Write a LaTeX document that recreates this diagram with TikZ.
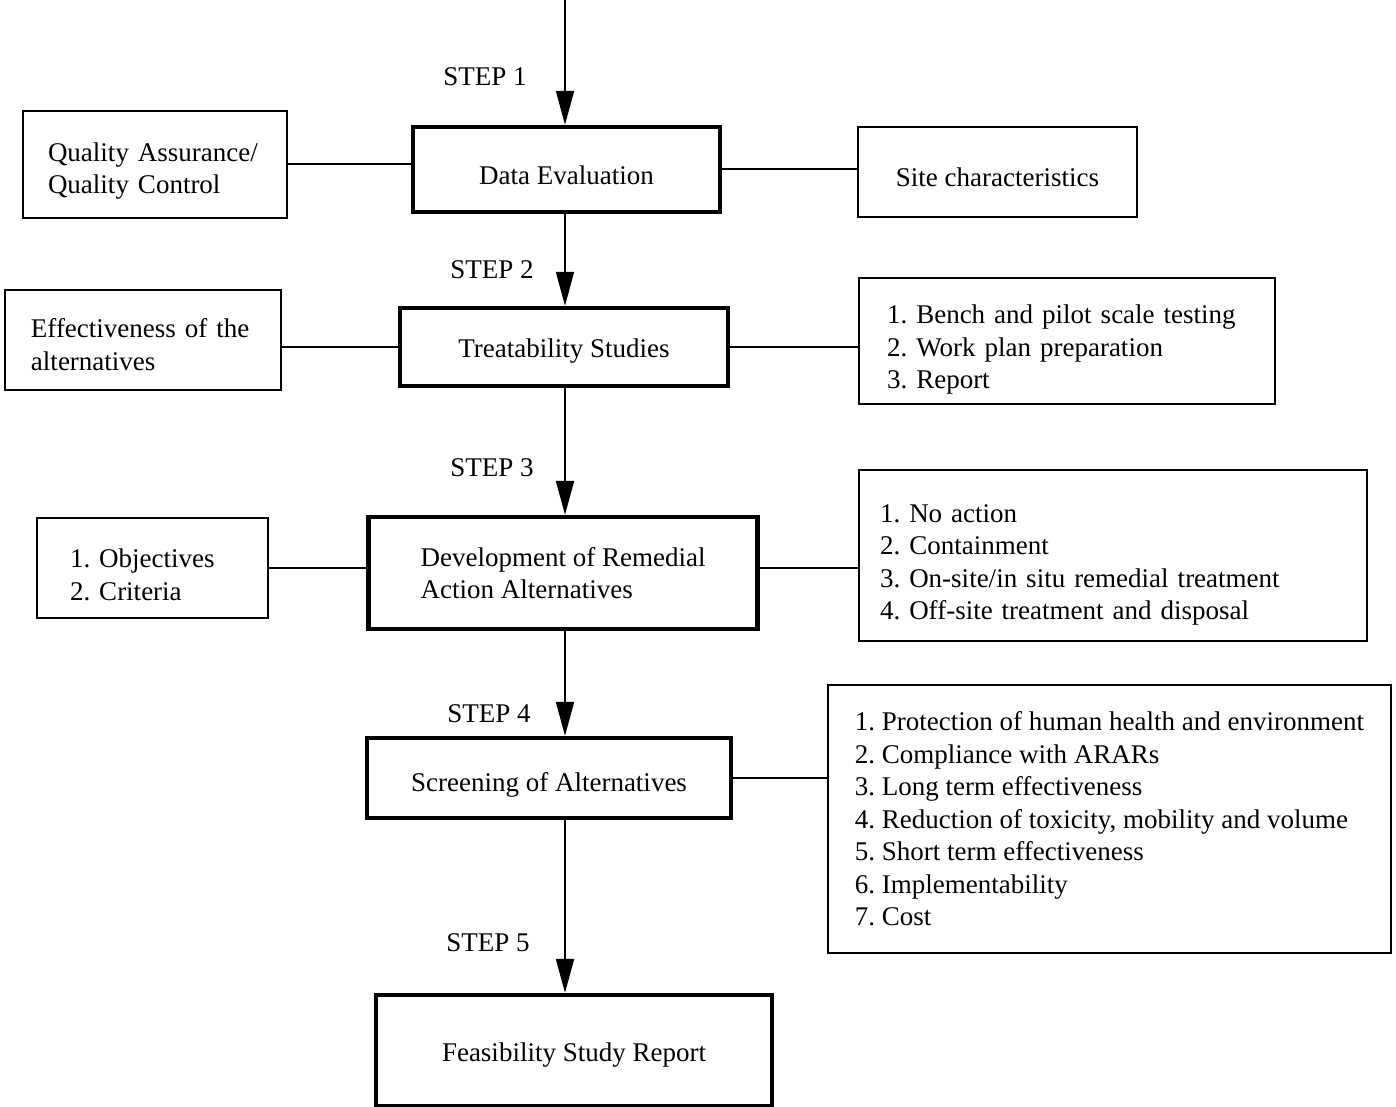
\documentclass[tikz,border=0pt]{standalone}
\usepackage{fontspec}
\setmainfont{Liberation Serif}
\usetikzlibrary{arrows.meta}

\begin{document}
\begin{tikzpicture}[x=0.5pt, y=-0.5pt,
  every node/.style={font=\fontsize{13.5}{16.25}\selectfont\frenchspacing},
  lower text/.style={execute at begin node={\rule{0pt}{#1}}},
  sidebox/.style={draw, line width=1pt, align=left, inner ysep=0pt},
  stepbox/.style={draw, line width=2.2pt, align=left, inner sep=0pt},
  flow/.style={line width=1pt, -{Triangle[length=17pt,width=9pt]}},
  link/.style={line width=1pt},
  steplabel/.style={inner sep=0pt}]

\useasboundingbox (0,0) rectangle (1396,1107);

% main sequence of steps
\node[stepbox, lower text=15.2pt, minimum width=153.5pt, minimum height=42.5pt] (de) at (566.5,169.5) {Data Evaluation};
\node[stepbox, lower text=13.2pt, minimum width=164pt, minimum height=39pt] (ts) at (564,347) {Treatability Studies};
\node[stepbox, minimum width=194.5pt, minimum height=56pt] (dev) at (563,573) {Development of Remedial\\Action Alternatives};
\node[stepbox, lower text=16.2pt, minimum width=182pt, minimum height=40pt] (scr) at (549,778) {Screening of Alternatives};
\node[stepbox, lower text=14.2pt, minimum width=198pt, minimum height=55.5pt] (fsr) at (574,1050.5) {Feasibility Study Report};

% left-hand boxes
\node[sidebox, lower text=15.7pt, text width=107pt, inner xsep=12.5pt, minimum height=53.5pt] (qa) at (155,164.5) {Quality Assurance/\\Quality Control};
\node[sidebox, lower text=14.2pt, text width=112pt, inner xsep=13pt, minimum height=50pt] (eff) at (143,340) {Effectiveness of the\\alternatives};
\node[sidebox, lower text=16.2pt, text width=82.5pt, inner xsep=16.5pt, minimum height=50pt] (obj) at (152.5,568) {1. Objectives\\2. Criteria};

% right-hand boxes
\node[sidebox, lower text=14.2pt, minimum width=139.5pt, minimum height=45pt] (site) at (997.5,172) {Site characteristics};
\node[sidebox, lower text=18.2pt, text width=180pt, inner xsep=14pt, minimum height=63pt] (bench) at (1067,341)
  {1. Bench and pilot scale testing\\2. Work plan preparation\\3. Report};
\node[sidebox, lower text=18.2pt, text width=233pt, inner xsep=10.5pt, minimum height=85.5pt] (noact) at (1113,555.5)
  {1. No action\\2. Containment\\3. On-site/in situ remedial treatment\\4. Off-site treatment and disposal};
\node[sidebox, lower text=13.2pt, minimum width=281.5pt, minimum height=134pt] (prot) at (1109.5,819)
  {1. Protection of human health and environment\\2. Compliance with ARARs\\3. Long term effectiveness\\4. Reduction of toxicity, mobility and volume\\5. Short term effectiveness\\6. Implementability\\7. Cost};

% step labels
\node[steplabel] (s1) at (485,77) {STEP 1};
\node[steplabel] (s2) at (492,270) {STEP 2};
\node[steplabel] (s3) at (492,468) {STEP 3};
\node[steplabel] (s4) at (489,714) {STEP 4};
\node[steplabel] (s5) at (488,943) {STEP 5};

% flow arrows down the column
\coordinate (start) at (565,0);
\draw[flow] (start) -- (start |- de.north);
\draw[flow] (de.south -| start) -- (ts.north -| start);
\draw[flow] (ts.south -| start) -- (dev.north -| start);
\draw[flow] (dev.south -| start) -- (scr.north -| start);
\draw[flow] (scr.south -| start) -- (fsr.north -| start);

% side connections
\draw[link] (qa.east) -- (qa.east -| de.west);
\draw[link] (de.east) -- (de.east -| site.west);
\draw[link] (ts.west) -- (ts.west -| eff.east);
\draw[link] (ts.east) -- (ts.east -| bench.west);
\draw[link] (obj.east) -- (obj.east -| dev.west);
\draw[link] (dev.east |- obj.east) -- (obj.east -| noact.west);
\draw[link] (scr.east) -- (scr.east -| prot.west);
\end{tikzpicture}
\end{document}
